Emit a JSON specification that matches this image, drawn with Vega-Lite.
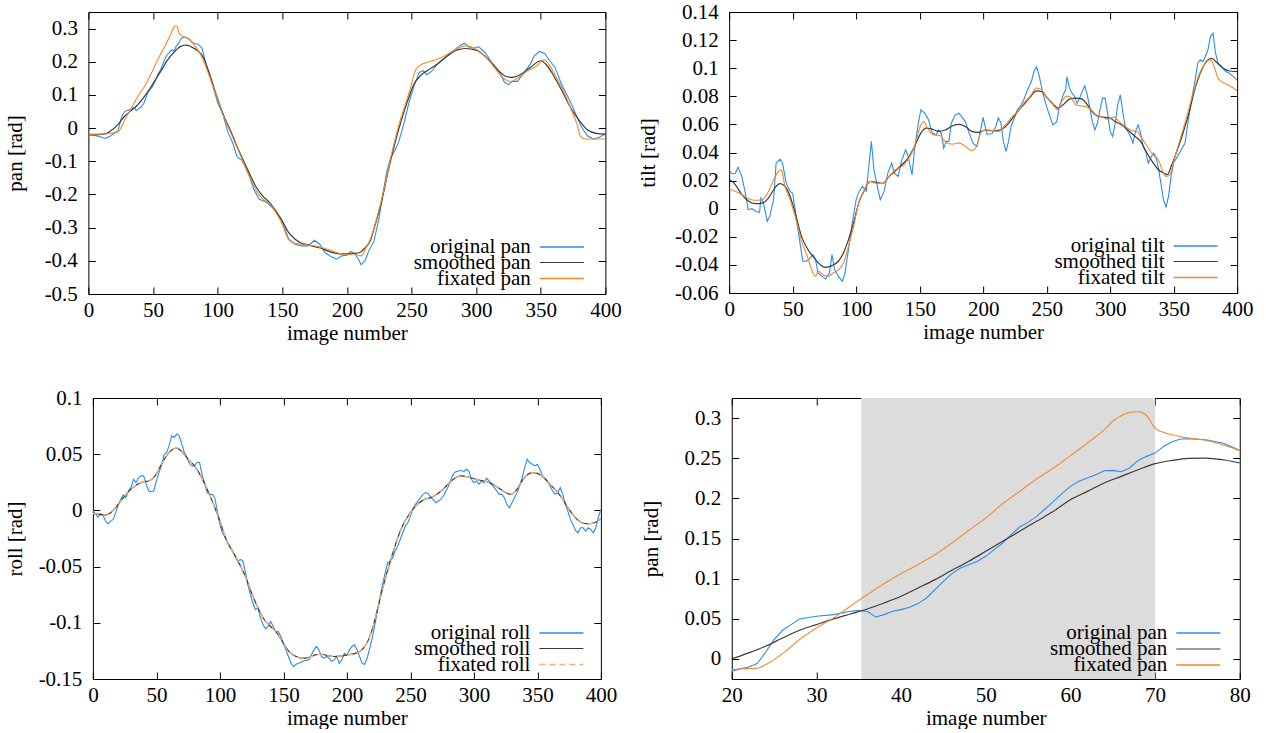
{
"$schema": "https://vega.github.io/schema/vega-lite/v6.json",
"background": "white",
"padding": {"left": 3, "top": 0, "right": 0, "bottom": 0},
"config": {
 "locale": {"number": {"decimal": ".", "thousands": ",", "grouping": [3], "currency": ["$", ""], "minus": "-"}},
 "view": {"stroke": "black", "strokeWidth": 1},
 "axis": {"domain": false, "grid": false, "tickSize": -7, "tickColor": "black", "tickWidth": 1, "labelFont": "Liberation Serif", "labelFontSize": 21, "labelColor": "black", "titleFont": "Liberation Serif", "titleFontSize": 21, "titleFontWeight": "normal", "titleColor": "black", "labelOverlap": false, "labelFlush": false, "zindex": 1},
 "axisBottom": {"labelPadding": 12, "titlePadding": 2},
 "axisLeft": {"labelPadding": 18, "titlePadding": 0},
 "axisTop": {"labels": false},
 "axisRight": {"labels": false},
 "legend": {"orient": "none", "title": null, "symbolType": "stroke", "symbolSize": 1936, "symbolStrokeWidth": 1.5, "symbolOpacity": 1, "labelFontSize": 21, "labelFont": "Liberation Serif", "labelColor": "black", "labelAlign": "right", "labelOffset": -54, "padding": 0, "labelLimit": 0}
},
"datasets": {
 "pan_o": [{"x":0,"y":-0.02},{"x":5,"y":-0.022},{"x":9,"y":-0.026},{"x":13,"y":-0.031},{"x":17,"y":-0.024},{"x":20,"y":-0.0154},{"x":21,"y":-0.0124},{"x":22,"y":-0.01},{"x":23,"y":-0.0058},{"x":24,"y":0.0083},{"x":25,"y":0.0241},{"x":26,"y":0.0357},{"x":27,"y":0.0427},{"x":28,"y":0.0498},{"x":30,"y":0.0531},{"x":32,"y":0.0552},{"x":34,"y":0.0593},{"x":35,"y":0.0602},{"x":36,"y":0.0593},{"x":37,"y":0.0523},{"x":38,"y":0.0552},{"x":39,"y":0.0593},{"x":40,"y":0.0614},{"x":41,"y":0.0643},{"x":42,"y":0.0689},{"x":43,"y":0.0759},{"x":44,"y":0.0863},{"x":45,"y":0.0967},{"x":46,"y":0.1062},{"x":47,"y":0.1133},{"x":48,"y":0.1174},{"x":49,"y":0.1216},{"x":50,"y":0.1278},{"x":51,"y":0.1361},{"x":52,"y":0.1444},{"x":53,"y":0.1548},{"x":54,"y":0.1643},{"x":55,"y":0.1701},{"x":56,"y":0.1776},{"x":57,"y":0.1867},{"x":58,"y":0.1963},{"x":59,"y":0.2058},{"x":60,"y":0.2149},{"x":61,"y":0.2212},{"x":62,"y":0.2253},{"x":63,"y":0.2295},{"x":64,"y":0.2344},{"x":65,"y":0.2349},{"x":66,"y":0.2332},{"x":67,"y":0.2378},{"x":68,"y":0.2473},{"x":69,"y":0.2523},{"x":70,"y":0.2564},{"x":71,"y":0.2647},{"x":72,"y":0.2705},{"x":73,"y":0.2739},{"x":74,"y":0.2743},{"x":76,"y":0.273},{"x":78,"y":0.2689},{"x":80,"y":0.2598},{"x":82,"y":0.255},{"x":85,"y":0.253},{"x":88,"y":0.24},{"x":91,"y":0.193},{"x":95,"y":0.143},{"x":100,"y":0.077},{"x":104,"y":0.042},{"x":108,"y":-0.013},{"x":112,"y":-0.048},{"x":115,"y":-0.086},{"x":119,"y":-0.098},{"x":124,"y":-0.139},{"x":128,"y":-0.184},{"x":132,"y":-0.214},{"x":138,"y":-0.224},{"x":145,"y":-0.249},{"x":150,"y":-0.28},{"x":155,"y":-0.335},{"x":160,"y":-0.35},{"x":165,"y":-0.355},{"x":170,"y":-0.355},{"x":175,"y":-0.338},{"x":179,"y":-0.35},{"x":183,"y":-0.375},{"x":188,"y":-0.388},{"x":192,"y":-0.395},{"x":196,"y":-0.385},{"x":200,"y":-0.383},{"x":203,"y":-0.372},{"x":206,"y":-0.378},{"x":209,"y":-0.395},{"x":211,"y":-0.412},{"x":214,"y":-0.4},{"x":217,"y":-0.37},{"x":221,"y":-0.34},{"x":225,"y":-0.269},{"x":228,"y":-0.194},{"x":231,"y":-0.129},{"x":234,"y":-0.088},{"x":237,"y":-0.068},{"x":240,"y":-0.043},{"x":244,"y":0.012},{"x":248,"y":0.077},{"x":252,"y":0.128},{"x":256,"y":0.168},{"x":259,"y":0.173},{"x":262,"y":0.161},{"x":266,"y":0.173},{"x":270,"y":0.193},{"x":276,"y":0.213},{"x":282,"y":0.233},{"x":288,"y":0.25},{"x":291,"y":0.256},{"x":294,"y":0.245},{"x":298,"y":0.241},{"x":302,"y":0.245},{"x":307,"y":0.228},{"x":312,"y":0.198},{"x":318,"y":0.168},{"x":322,"y":0.138},{"x":325,"y":0.131},{"x":328,"y":0.141},{"x":332,"y":0.141},{"x":337,"y":0.168},{"x":342,"y":0.193},{"x":345,"y":0.218},{"x":349,"y":0.231},{"x":353,"y":0.225},{"x":357,"y":0.203},{"x":361,"y":0.183},{"x":366,"y":0.133},{"x":372,"y":0.087},{"x":376,"y":0.052},{"x":381,"y":0.007},{"x":386,"y":-0.023},{"x":391,"y":-0.033},{"x":395,"y":-0.028},{"x":400,"y":-0.018}],
 "pan_s": [{"x":0,"y":-0.02},{"x":5,"y":-0.02},{"x":10,"y":-0.019},{"x":14,"y":-0.016},{"x":17,"y":-0.009},{"x":20,"y":0.0},{"x":22,"y":0.0075},{"x":24,"y":0.0158},{"x":26,"y":0.026},{"x":28,"y":0.0357},{"x":30,"y":0.0427},{"x":32,"y":0.0498},{"x":34,"y":0.056},{"x":36,"y":0.0622},{"x":38,"y":0.0697},{"x":40,"y":0.078},{"x":42,"y":0.0884},{"x":44,"y":0.0988},{"x":46,"y":0.1104},{"x":48,"y":0.1216},{"x":50,"y":0.134},{"x":52,"y":0.1465},{"x":54,"y":0.1589},{"x":56,"y":0.1714},{"x":58,"y":0.1838},{"x":60,"y":0.1983},{"x":62,"y":0.2087},{"x":64,"y":0.2191},{"x":66,"y":0.2274},{"x":68,"y":0.2357},{"x":70,"y":0.2432},{"x":72,"y":0.2473},{"x":74,"y":0.2498},{"x":76,"y":0.2502},{"x":78,"y":0.2481},{"x":80,"y":0.244},{"x":84,"y":0.235},{"x":89,"y":0.213},{"x":94,"y":0.16},{"x":99,"y":0.1},{"x":105,"y":0.035},{"x":110,"y":-0.008},{"x":115,"y":-0.055},{"x":120,"y":-0.098},{"x":125,"y":-0.14},{"x":130,"y":-0.179},{"x":135,"y":-0.205},{"x":140,"y":-0.224},{"x":145,"y":-0.25},{"x":150,"y":-0.28},{"x":155,"y":-0.315},{"x":160,"y":-0.335},{"x":165,"y":-0.347},{"x":170,"y":-0.352},{"x":175,"y":-0.357},{"x":180,"y":-0.362},{"x":185,"y":-0.37},{"x":190,"y":-0.376},{"x":195,"y":-0.379},{"x":200,"y":-0.379},{"x":205,"y":-0.378},{"x":210,"y":-0.375},{"x":213,"y":-0.365},{"x":218,"y":-0.34},{"x":222,"y":-0.29},{"x":227,"y":-0.219},{"x":232,"y":-0.129},{"x":237,"y":-0.048},{"x":242,"y":0.022},{"x":247,"y":0.082},{"x":252,"y":0.133},{"x":257,"y":0.158},{"x":262,"y":0.173},{"x":270,"y":0.193},{"x":278,"y":0.218},{"x":285,"y":0.235},{"x":292,"y":0.24},{"x":300,"y":0.235},{"x":308,"y":0.213},{"x":315,"y":0.183},{"x":322,"y":0.158},{"x":328,"y":0.153},{"x":335,"y":0.163},{"x":342,"y":0.183},{"x":350,"y":0.203},{"x":355,"y":0.188},{"x":360,"y":0.158},{"x":367,"y":0.108},{"x":373,"y":0.062},{"x":380,"y":0.022},{"x":386,"y":-0.005},{"x":393,"y":-0.016},{"x":400,"y":-0.018}],
 "pan_f": [{"x":0,"y":-0.018},{"x":10,"y":-0.018},{"x":16,"y":-0.016},{"x":20,"y":-0.0133},{"x":21,"y":-0.0124},{"x":23,"y":-0.0116},{"x":24,"y":-0.007},{"x":26,"y":0.0066},{"x":28,"y":0.0241},{"x":30,"y":0.0386},{"x":32,"y":0.051},{"x":34,"y":0.0656},{"x":35,"y":0.073},{"x":36,"y":0.08},{"x":38,"y":0.0938},{"x":40,"y":0.1062},{"x":42,"y":0.1174},{"x":44,"y":0.1299},{"x":46,"y":0.1444},{"x":48,"y":0.1602},{"x":50,"y":0.1755},{"x":52,"y":0.1934},{"x":54,"y":0.2087},{"x":56,"y":0.2241},{"x":58,"y":0.2378},{"x":60,"y":0.2531},{"x":62,"y":0.2689},{"x":64,"y":0.2855},{"x":65,"y":0.2959},{"x":66,"y":0.3029},{"x":67,"y":0.307},{"x":68,"y":0.3079},{"x":69,"y":0.3029},{"x":70,"y":0.2876},{"x":71,"y":0.2822},{"x":72,"y":0.2793},{"x":74,"y":0.2751},{"x":76,"y":0.2722},{"x":78,"y":0.2668},{"x":80,"y":0.2593},{"x":84,"y":0.24},{"x":88,"y":0.213},{"x":93,"y":0.163},{"x":100,"y":0.087},{"x":105,"y":0.032},{"x":110,"y":-0.013},{"x":115,"y":-0.058},{"x":120,"y":-0.104},{"x":125,"y":-0.149},{"x":130,"y":-0.189},{"x":135,"y":-0.214},{"x":140,"y":-0.229},{"x":145,"y":-0.254},{"x":150,"y":-0.29},{"x":154,"y":-0.33},{"x":158,"y":-0.345},{"x":165,"y":-0.35},{"x":175,"y":-0.355},{"x":185,"y":-0.365},{"x":195,"y":-0.378},{"x":200,"y":-0.381},{"x":206,"y":-0.38},{"x":211,"y":-0.385},{"x":215,"y":-0.36},{"x":219,"y":-0.325},{"x":224,"y":-0.259},{"x":229,"y":-0.179},{"x":234,"y":-0.088},{"x":239,"y":-0.008},{"x":244,"y":0.057},{"x":249,"y":0.118},{"x":253,"y":0.173},{"x":257,"y":0.19},{"x":262,"y":0.198},{"x":270,"y":0.208},{"x":278,"y":0.223},{"x":285,"y":0.238},{"x":292,"y":0.248},{"x":300,"y":0.238},{"x":308,"y":0.213},{"x":315,"y":0.178},{"x":322,"y":0.148},{"x":327,"y":0.141},{"x":333,"y":0.153},{"x":340,"y":0.173},{"x":347,"y":0.188},{"x":352,"y":0.206},{"x":357,"y":0.188},{"x":362,"y":0.153},{"x":368,"y":0.108},{"x":374,"y":0.052},{"x":378,"y":0.012},{"x":381,"y":-0.026},{"x":385,"y":-0.033},{"x":400,"y":-0.033}],
 "tilt_o": [{"x":0,"y":0.0277},{"x":2,"y":0.0249},{"x":5,"y":0.025},{"x":7,"y":0.0296},{"x":10,"y":0.023},{"x":13,"y":0.01},{"x":15,"y":-0.0007},{"x":18,"y":0},{"x":21,"y":-0.002},{"x":24,"y":-0.0026},{"x":25,"y":0.0076},{"x":27,"y":0.004},{"x":30,"y":-0.009},{"x":32,"y":-0.0055},{"x":35,"y":0.0064},{"x":37,"y":0.0325},{"x":40,"y":0.0353},{"x":42,"y":0.0325},{"x":45,"y":0.018},{"x":48,"y":0.0123},{"x":50,"y":0.011},{"x":52,"y":-0.0007},{"x":55,"y":-0.0197},{"x":58,"y":-0.0374},{"x":61,"y":-0.0374},{"x":64,"y":-0.035},{"x":66,"y":-0.0327},{"x":68,"y":-0.036},{"x":70,"y":-0.0457},{"x":73,"y":-0.048},{"x":76,"y":-0.05},{"x":79,"y":-0.0457},{"x":81,"y":-0.0327},{"x":83,"y":-0.0434},{"x":86,"y":-0.048},{"x":89,"y":-0.0517},{"x":91,"y":-0.047},{"x":94,"y":-0.029},{"x":97,"y":-0.01},{"x":100,"y":0.0064},{"x":102,"y":0.0116},{"x":105,"y":0.0159},{"x":108,"y":0.0123},{"x":110,"y":0.03},{"x":112,"y":0.048},{"x":114,"y":0.0277},{"x":117,"y":0.0147},{"x":119,"y":0.0064},{"x":122,"y":0.0123},{"x":125,"y":0.0254},{"x":128,"y":0.0325},{"x":130,"y":0.0254},{"x":133,"y":0.023},{"x":136,"y":0.0348},{"x":139,"y":0.042},{"x":141,"y":0.0372},{"x":144,"y":0.024},{"x":146,"y":0.042},{"x":149,"y":0.061},{"x":151,"y":0.0704},{"x":154,"y":0.068},{"x":157,"y":0.0633},{"x":160,"y":0.0538},{"x":163,"y":0.0526},{"x":165,"y":0.056},{"x":167,"y":0.0538},{"x":169,"y":0.0431},{"x":171,"y":0.0479},{"x":173,"y":0.0479},{"x":175,"y":0.061},{"x":178,"y":0.0668},{"x":181,"y":0.068},{"x":184,"y":0.0645},{"x":186,"y":0.062},{"x":189,"y":0.0538},{"x":192,"y":0.0467},{"x":195,"y":0.0443},{"x":198,"y":0.056},{"x":200,"y":0.065},{"x":203,"y":0.053},{"x":207,"y":0.0533},{"x":210,"y":0.0585},{"x":212,"y":0.0645},{"x":214,"y":0.061},{"x":216,"y":0.0479},{"x":218,"y":0.0408},{"x":220,"y":0.0479},{"x":222,"y":0.0585},{"x":225,"y":0.0656},{"x":227,"y":0.0704},{"x":230,"y":0.074},{"x":232,"y":0.0775},{"x":235,"y":0.0846},{"x":238,"y":0.0905},{"x":240,"y":0.0976},{"x":242,"y":0.101},{"x":244,"y":0.0953},{"x":247,"y":0.0822},{"x":250,"y":0.0727},{"x":253,"y":0.0645},{"x":255,"y":0.0597},{"x":258,"y":0.062},{"x":260,"y":0.0727},{"x":263,"y":0.081},{"x":265,"y":0.0846},{"x":266,"y":0.094},{"x":268,"y":0.0858},{"x":270,"y":0.0822},{"x":272,"y":0.08},{"x":274,"y":0.075},{"x":276,"y":0.0787},{"x":278,"y":0.0834},{"x":280,"y":0.0874},{"x":282,"y":0.081},{"x":284,"y":0.0716},{"x":286,"y":0.062},{"x":288,"y":0.056},{"x":290,"y":0.061},{"x":292,"y":0.0704},{"x":294,"y":0.0787},{"x":296,"y":0.0787},{"x":298,"y":0.068},{"x":300,"y":0.055},{"x":302,"y":0.0514},{"x":304,"y":0.061},{"x":306,"y":0.074},{"x":308,"y":0.081},{"x":310,"y":0.069},{"x":312,"y":0.0573},{"x":314,"y":0.055},{"x":316,"y":0.0514},{"x":318,"y":0.0467},{"x":320,"y":0.055},{"x":322,"y":0.0597},{"x":324,"y":0.0538},{"x":326,"y":0.0443},{"x":328,"y":0.0408},{"x":330,"y":0.0325},{"x":332,"y":0.036},{"x":334,"y":0.0396},{"x":336,"y":0.0372},{"x":338,"y":0.0289},{"x":340,"y":0.018},{"x":342,"y":0.0064},{"x":344,"y":0.0012},{"x":346,"y":0.0088},{"x":348,"y":0.023},{"x":350,"y":0.0325},{"x":353,"y":0.0372},{"x":356,"y":0.042},{"x":359,"y":0.0467},{"x":362,"y":0.0656},{"x":365,"y":0.0822},{"x":367,"y":0.0917},{"x":369,"y":0.1036},{"x":371,"y":0.106},{"x":373,"y":0.1047},{"x":375,"y":0.1083},{"x":377,"y":0.113},{"x":379,"y":0.1225},{"x":381,"y":0.1249},{"x":383,"y":0.1107},{"x":385,"y":0.1036},{"x":388,"y":0.101},{"x":391,"y":0.0976},{"x":394,"y":0.0964},{"x":397,"y":0.094},{"x":400,"y":0.0917}],
 "tilt_s": [{"x":0,"y":0.021},{"x":5,"y":0.017},{"x":10,"y":0.01},{"x":16,"y":0.005},{"x":21,"y":0.0036},{"x":26,"y":0.004},{"x":31,"y":0.0076},{"x":36,"y":0.0147},{"x":40,"y":0.0178},{"x":44,"y":0.016},{"x":48,"y":0.0088},{"x":52,"y":-0.003},{"x":57,"y":-0.0197},{"x":62,"y":-0.029},{"x":67,"y":-0.035},{"x":72,"y":-0.04},{"x":76,"y":-0.0417},{"x":81,"y":-0.0405},{"x":86,"y":-0.0374},{"x":90,"y":-0.0315},{"x":94,"y":-0.022},{"x":98,"y":-0.01},{"x":102,"y":0.004},{"x":106,"y":0.0123},{"x":111,"y":0.0194},{"x":116,"y":0.0187},{"x":121,"y":0.018},{"x":126,"y":0.023},{"x":131,"y":0.027},{"x":136,"y":0.0313},{"x":141,"y":0.036},{"x":146,"y":0.0443},{"x":151,"y":0.0538},{"x":155,"y":0.0573},{"x":160,"y":0.0566},{"x":165,"y":0.055},{"x":170,"y":0.056},{"x":176,"y":0.059},{"x":181,"y":0.06},{"x":186,"y":0.0585},{"x":191,"y":0.055},{"x":196,"y":0.0543},{"x":202,"y":0.056},{"x":207,"y":0.0555},{"x":212,"y":0.0557},{"x":217,"y":0.058},{"x":222,"y":0.063},{"x":227,"y":0.069},{"x":232,"y":0.074},{"x":237,"y":0.0794},{"x":242,"y":0.0839},{"x":246,"y":0.0834},{"x":250,"y":0.0794},{"x":255,"y":0.0746},{"x":259,"y":0.0716},{"x":263,"y":0.074},{"x":268,"y":0.078},{"x":273,"y":0.0787},{"x":278,"y":0.078},{"x":282,"y":0.074},{"x":286,"y":0.069},{"x":291,"y":0.0656},{"x":296,"y":0.065},{"x":300,"y":0.0645},{"x":304,"y":0.062},{"x":309,"y":0.0597},{"x":314,"y":0.056},{"x":319,"y":0.0519},{"x":324,"y":0.0479},{"x":329,"y":0.0396},{"x":334,"y":0.0325},{"x":338,"y":0.0277},{"x":342,"y":0.0254},{"x":345,"y":0.0242},{"x":348,"y":0.03},{"x":352,"y":0.0396},{"x":357,"y":0.0526},{"x":362,"y":0.068},{"x":367,"y":0.0858},{"x":372,"y":0.0988},{"x":377,"y":0.1059},{"x":380,"y":0.107},{"x":384,"y":0.104},{"x":389,"y":0.1},{"x":394,"y":0.098},{"x":400,"y":0.0976}],
 "tilt_f": [{"x":0,"y":0.014},{"x":5,"y":0.0123},{"x":10,"y":0.01},{"x":16,"y":0.0069},{"x":21,"y":0.006},{"x":26,"y":0.0064},{"x":31,"y":0.0123},{"x":35,"y":0.0206},{"x":39,"y":0.0265},{"x":41,"y":0.0277},{"x":44,"y":0.016},{"x":48,"y":0.0064},{"x":52,"y":-0.0055},{"x":57,"y":-0.023},{"x":62,"y":-0.035},{"x":66,"y":-0.0457},{"x":68,"y":-0.048},{"x":70,"y":-0.0445},{"x":74,"y":-0.047},{"x":78,"y":-0.048},{"x":82,"y":-0.0457},{"x":86,"y":-0.0434},{"x":90,"y":-0.0386},{"x":94,"y":-0.0268},{"x":98,"y":-0.0126},{"x":102,"y":0.004},{"x":106,"y":0.0123},{"x":111,"y":0.0194},{"x":116,"y":0.018},{"x":121,"y":0.018},{"x":126,"y":0.023},{"x":131,"y":0.0277},{"x":136,"y":0.03},{"x":141,"y":0.0353},{"x":146,"y":0.0443},{"x":151,"y":0.0597},{"x":153,"y":0.062},{"x":157,"y":0.0562},{"x":161,"y":0.0526},{"x":166,"y":0.052},{"x":171,"y":0.047},{"x":176,"y":0.046},{"x":181,"y":0.0467},{"x":186,"y":0.0443},{"x":191,"y":0.0415},{"x":195,"y":0.0443},{"x":198,"y":0.0538},{"x":202,"y":0.056},{"x":207,"y":0.0557},{"x":212,"y":0.055},{"x":217,"y":0.059},{"x":222,"y":0.0645},{"x":227,"y":0.069},{"x":232,"y":0.075},{"x":237,"y":0.08},{"x":242,"y":0.0858},{"x":246,"y":0.0846},{"x":250,"y":0.0794},{"x":255,"y":0.074},{"x":259,"y":0.0704},{"x":262,"y":0.0763},{"x":266,"y":0.08},{"x":269,"y":0.0794},{"x":273,"y":0.074},{"x":277,"y":0.0732},{"x":281,"y":0.0727},{"x":285,"y":0.0704},{"x":289,"y":0.0668},{"x":293,"y":0.0656},{"x":298,"y":0.0637},{"x":303,"y":0.0652},{"x":307,"y":0.062},{"x":312,"y":0.0585},{"x":317,"y":0.0557},{"x":321,"y":0.055},{"x":325,"y":0.0502},{"x":330,"y":0.0431},{"x":335,"y":0.0372},{"x":338,"y":0.0348},{"x":341,"y":0.0277},{"x":344,"y":0.023},{"x":347,"y":0.0242},{"x":350,"y":0.0336},{"x":355,"y":0.049},{"x":360,"y":0.0645},{"x":365,"y":0.081},{"x":370,"y":0.0953},{"x":375,"y":0.1036},{"x":379,"y":0.106},{"x":382,"y":0.101},{"x":385,"y":0.0929},{"x":390,"y":0.0893},{"x":395,"y":0.087},{"x":400,"y":0.0841}],
 "roll_o": [{"x":0,"y":0},{"x":2,"y":-0.003},{"x":4,"y":-0.006},{"x":6,"y":-0.003},{"x":8,"y":-0.0042},{"x":10,"y":-0.0095},{"x":12,"y":-0.0119},{"x":14,"y":-0.0095},{"x":16,"y":-0.008},{"x":18,"y":-0.002},{"x":20,"y":0.0054},{"x":22,"y":0.0098},{"x":24,"y":0.0137},{"x":26,"y":0.0113},{"x":28,"y":0.0173},{"x":30,"y":0.0202},{"x":32,"y":0.0277},{"x":34,"y":0.0247},{"x":36,"y":0.0292},{"x":38,"y":0.0307},{"x":40,"y":0.0307},{"x":42,"y":0.0232},{"x":44,"y":0.0173},{"x":46,"y":0.0167},{"x":48,"y":0.0173},{"x":50,"y":0.0262},{"x":52,"y":0.0336},{"x":54,"y":0.0396},{"x":56,"y":0.0494},{"x":58,"y":0.0515},{"x":60,"y":0.0574},{"x":62,"y":0.0664},{"x":64,"y":0.0649},{"x":66,"y":0.0679},{"x":68,"y":0.0664},{"x":70,"y":0.0589},{"x":72,"y":0.0515},{"x":74,"y":0.047},{"x":76,"y":0.0417},{"x":78,"y":0.0396},{"x":80,"y":0.0396},{"x":82,"y":0.0426},{"x":84,"y":0.0426},{"x":86,"y":0.0321},{"x":88,"y":0.0238},{"x":90,"y":0.0158},{"x":92,"y":0.0143},{"x":94,"y":0.0143},{"x":96,"y":0.0113},{"x":98,"y":-0.0006},{"x":100,"y":-0.0125},{"x":102,"y":-0.0199},{"x":104,"y":-0.0238},{"x":106,"y":-0.0289},{"x":108,"y":-0.0327},{"x":110,"y":-0.0363},{"x":112,"y":-0.0408},{"x":114,"y":-0.0452},{"x":116,"y":-0.0438},{"x":118,"y":-0.0446},{"x":120,"y":-0.0542},{"x":122,"y":-0.066},{"x":124,"y":-0.075},{"x":126,"y":-0.0824},{"x":128,"y":-0.0884},{"x":130,"y":-0.0869},{"x":132,"y":-0.0958},{"x":134,"y":-0.1018},{"x":136,"y":-0.1054},{"x":138,"y":-0.1033},{"x":140,"y":-0.0988},{"x":142,"y":-0.1033},{"x":144,"y":-0.1077},{"x":146,"y":-0.1077},{"x":148,"y":-0.1122},{"x":150,"y":-0.1182},{"x":152,"y":-0.1241},{"x":154,"y":-0.13},{"x":156,"y":-0.136},{"x":158,"y":-0.139},{"x":160,"y":-0.1369},{"x":162,"y":-0.136},{"x":164,"y":-0.1351},{"x":166,"y":-0.1339},{"x":168,"y":-0.1333},{"x":170,"y":-0.133},{"x":172,"y":-0.1286},{"x":174,"y":-0.1241},{"x":176,"y":-0.1211},{"x":178,"y":-0.1241},{"x":180,"y":-0.13},{"x":182,"y":-0.1315},{"x":184,"y":-0.13},{"x":186,"y":-0.1315},{"x":188,"y":-0.1345},{"x":190,"y":-0.133},{"x":192,"y":-0.13},{"x":194,"y":-0.136},{"x":196,"y":-0.133},{"x":198,"y":-0.1271},{"x":200,"y":-0.1286},{"x":202,"y":-0.1241},{"x":204,"y":-0.1211},{"x":206,"y":-0.1196},{"x":208,"y":-0.1241},{"x":210,"y":-0.13},{"x":212,"y":-0.136},{"x":214,"y":-0.1369},{"x":216,"y":-0.1315},{"x":218,"y":-0.1226},{"x":220,"y":-0.1137},{"x":222,"y":-0.1018},{"x":224,"y":-0.0899},{"x":226,"y":-0.078},{"x":228,"y":-0.066},{"x":230,"y":-0.0565},{"x":232,"y":-0.0467},{"x":234,"y":-0.0452},{"x":236,"y":-0.0423},{"x":238,"y":-0.0363},{"x":240,"y":-0.0318},{"x":242,"y":-0.0259},{"x":244,"y":-0.0199},{"x":246,"y":-0.014},{"x":248,"y":-0.011},{"x":250,"y":-0.0051},{"x":252,"y":0.0009},{"x":254,"y":0.0054},{"x":256,"y":0.0083},{"x":258,"y":0.0113},{"x":260,"y":0.0143},{"x":262,"y":0.0158},{"x":264,"y":0.0149},{"x":266,"y":0.0119},{"x":268,"y":0.0098},{"x":270,"y":0.0068},{"x":272,"y":0.0083},{"x":274,"y":0.0098},{"x":276,"y":0.0128},{"x":278,"y":0.0173},{"x":280,"y":0.0217},{"x":282,"y":0.0277},{"x":284,"y":0.0327},{"x":286,"y":0.0345},{"x":288,"y":0.0351},{"x":290,"y":0.0357},{"x":292,"y":0.0345},{"x":294,"y":0.0366},{"x":296,"y":0.0351},{"x":298,"y":0.0277},{"x":300,"y":0.0247},{"x":302,"y":0.0262},{"x":304,"y":0.0232},{"x":306,"y":0.0262},{"x":308,"y":0.0247},{"x":310,"y":0.0286},{"x":312,"y":0.0262},{"x":314,"y":0.0232},{"x":316,"y":0.0202},{"x":318,"y":0.0173},{"x":320,"y":0.0143},{"x":322,"y":0.0143},{"x":324,"y":0.0113},{"x":326,"y":0.0054},{"x":328,"y":0.0024},{"x":330,"y":0.0068},{"x":332,"y":0.0113},{"x":334,"y":0.0158},{"x":336,"y":0.0217},{"x":338,"y":0.0292},{"x":340,"y":0.0381},{"x":342,"y":0.0455},{"x":344,"y":0.0426},{"x":346,"y":0.0411},{"x":348,"y":0.0396},{"x":350,"y":0.0411},{"x":352,"y":0.0366},{"x":354,"y":0.0307},{"x":356,"y":0.0286},{"x":358,"y":0.0262},{"x":360,"y":0.0217},{"x":362,"y":0.0173},{"x":364,"y":0.0143},{"x":366,"y":0.0158},{"x":368,"y":0.0202},{"x":370,"y":0.0143},{"x":372,"y":0.0054},{"x":374,"y":-0.0006},{"x":376,"y":-0.008},{"x":378,"y":-0.0125},{"x":380,"y":-0.0179},{"x":382,"y":-0.0199},{"x":384,"y":-0.0155},{"x":386,"y":-0.0155},{"x":388,"y":-0.0185},{"x":390,"y":-0.0155},{"x":392,"y":-0.017},{"x":394,"y":-0.0199},{"x":396,"y":-0.0155},{"x":398,"y":-0.0065},{"x":400,"y":0.0009}],
 "roll_s": [{"x":0,"y":-0.0027},{"x":5,"y":-0.0036},{"x":10,"y":-0.0042},{"x":14,"y":-0.002},{"x":19,"y":0.0039},{"x":24,"y":0.0113},{"x":29,"y":0.0179},{"x":34,"y":0.0223},{"x":39,"y":0.0253},{"x":44,"y":0.0262},{"x":49,"y":0.0307},{"x":54,"y":0.0411},{"x":59,"y":0.05},{"x":64,"y":0.0551},{"x":66,"y":0.0554},{"x":70,"y":0.0524},{"x":75,"y":0.0455},{"x":80,"y":0.0396},{"x":85,"y":0.0307},{"x":90,"y":0.0188},{"x":95,"y":0.0054},{"x":100,"y":-0.0095},{"x":105,"y":-0.0259},{"x":110,"y":-0.0363},{"x":115,"y":-0.0467},{"x":120,"y":-0.0586},{"x":125,"y":-0.0735},{"x":130,"y":-0.0869},{"x":135,"y":-0.0973},{"x":140,"y":-0.1033},{"x":145,"y":-0.1092},{"x":150,"y":-0.1182},{"x":155,"y":-0.1262},{"x":160,"y":-0.13},{"x":165,"y":-0.1315},{"x":170,"y":-0.1307},{"x":175,"y":-0.1286},{"x":180,"y":-0.128},{"x":185,"y":-0.1292},{"x":190,"y":-0.13},{"x":195,"y":-0.1295},{"x":200,"y":-0.1286},{"x":205,"y":-0.1277},{"x":210,"y":-0.1256},{"x":213,"y":-0.1226},{"x":217,"y":-0.1152},{"x":221,"y":-0.1018},{"x":225,"y":-0.0839},{"x":229,"y":-0.066},{"x":233,"y":-0.0497},{"x":237,"y":-0.0348},{"x":241,"y":-0.0214},{"x":245,"y":-0.011},{"x":249,"y":-0.0036},{"x":253,"y":0.0024},{"x":257,"y":0.0068},{"x":261,"y":0.0098},{"x":266,"y":0.0113},{"x":270,"y":0.0137},{"x":275,"y":0.0179},{"x":280,"y":0.0238},{"x":285,"y":0.0286},{"x":290,"y":0.0307},{"x":295,"y":0.0298},{"x":300,"y":0.0283},{"x":305,"y":0.0268},{"x":310,"y":0.0256},{"x":315,"y":0.0232},{"x":320,"y":0.0196},{"x":325,"y":0.0158},{"x":329,"y":0.0143},{"x":333,"y":0.0173},{"x":337,"y":0.0247},{"x":341,"y":0.0307},{"x":346,"y":0.0336},{"x":350,"y":0.033},{"x":355,"y":0.0292},{"x":360,"y":0.0232},{"x":365,"y":0.0173},{"x":370,"y":0.0098},{"x":375,"y":0.0009},{"x":380,"y":-0.0065},{"x":385,"y":-0.011},{"x":390,"y":-0.0119},{"x":395,"y":-0.011},{"x":400,"y":-0.0074}],
 "band": [{"a": 35.3, "b": 70}]
},
"spacing": 14.75,
"resolve": {"scale": {"color": "independent", "strokeDash": "independent", "strokeWidth": "independent"}, "legend": {"color": "independent", "strokeDash": "independent", "strokeWidth": "independent"}},
"hconcat": [
 {"center": true, "spacing": 42,
  "resolve": {"scale": {"color": "independent", "strokeDash": "independent", "strokeWidth": "independent"}, "legend": {"color": "independent", "strokeDash": "independent", "strokeWidth": "independent"}},
  "vconcat": [
  {"width": 517, "height": 282,
   "resolve": {"axis": {"x": "independent", "y": "independent"}},
   "layer": [
    {"data": {"name": "pan_o"}, "mark": {"type": "line", "clip": true, "strokeWidth": 1.1},
     "encoding": {
      "x": {"field": "x", "type": "quantitative", "scale": {"domain": [0, 400], "nice": false}, "axis": {"orient": "bottom", "values": [0,50,100,150,200,250,300,350,400], "format": ".6~g", "title": "image number"}},
      "y": {"field": "y", "type": "quantitative", "scale": {"domain": [-0.5, 0.35], "nice": false, "zero": false}, "axis": {"orient": "left", "values": [-0.5,-0.4,-0.3,-0.2,-0.1,0,0.1,0.2,0.3], "format": ".6~g", "title": "pan [rad]", "minExtent": 63.25, "maxExtent": 63.25}},
      "color": {"datum": "original pan", "type": "nominal", "scale": {"domain": ["original pan"], "range": ["#2b8cee"]}, "legend": {"legendX": 450.5, "legendY": 212}}
     }},
    {"data": {"name": "pan_s"}, "mark": {"type": "line", "clip": true, "color": "#3a3a3a", "interpolate": "monotone"},
     "encoding": {"x": {"field": "x", "type": "quantitative", "axis": null}, "y": {"field": "y", "type": "quantitative", "axis": null},
      "strokeWidth": {"datum": "smoothed pan", "type": "ordinal", "scale": {"domain": ["smoothed pan"], "range": [1.2, 1.2]}, "legend": {"legendX": 450.5, "legendY": 227.5, "encode": {"symbols": {"update": {"stroke": {"value": "#3a3a3a"}}}}}}}},
    {"data": {"name": "pan_f"}, "mark": {"type": "line", "clip": true, "color": "#f0892a", "strokeWidth": 1.1, "interpolate": "monotone"},
     "encoding": {"x": {"field": "x", "type": "quantitative", "axis": null}, "y": {"field": "y", "type": "quantitative", "axis": null},
      "strokeDash": {"datum": "fixated pan", "type": "nominal", "scale": {"domain": ["fixated pan"], "range": [[1, 0]]}, "legend": {"legendX": 450.5, "legendY": 243.5, "encode": {"symbols": {"update": {"stroke": {"value": "#f0892a"}}}}}}}},
    {"data": {"name": "pan_s"}, "mark": {"type": "line", "clip": true, "strokeOpacity": 0},
     "encoding": {"x": {"field": "x", "type": "quantitative", "axis": {"orient": "top", "values": [0,50,100,150,200,250,300,350,400], "title": null}}, "y": {"field": "y", "type": "quantitative", "axis": {"orient": "right", "values": [-0.5,-0.4,-0.3,-0.2,-0.1,0,0.1,0.2,0.3], "title": null}}}}
   ]},
  {"width": 508, "height": 281,
   "resolve": {"axis": {"x": "independent", "y": "independent"}},
   "layer": [
    {"data": {"name": "roll_o"}, "mark": {"type": "line", "clip": true, "strokeWidth": 1.1},
     "encoding": {
      "x": {"field": "x", "type": "quantitative", "scale": {"domain": [0, 400], "nice": false}, "axis": {"orient": "bottom", "values": [0,50,100,150,200,250,300,350,400], "format": ".6~g", "title": "image number"}},
      "y": {"field": "y", "type": "quantitative", "scale": {"domain": [-0.15, 0.1], "nice": false, "zero": false}, "axis": {"orient": "left", "values": [-0.15,-0.1,-0.05,0,0.05,0.1], "format": ".6~g", "title": "roll [rad]", "minExtent": 67.75, "maxExtent": 67.75}},
      "color": {"datum": "original roll", "type": "nominal", "scale": {"domain": ["original roll"], "range": ["#2b8cee"]}, "legend": {"legendX": 445.5, "legendY": 212}}
     }},
    {"data": {"name": "roll_s"}, "mark": {"type": "line", "clip": true, "color": "#3a3a3a", "interpolate": "monotone"},
     "encoding": {"x": {"field": "x", "type": "quantitative", "axis": null}, "y": {"field": "y", "type": "quantitative", "axis": null},
      "strokeWidth": {"datum": "smoothed roll", "type": "ordinal", "scale": {"domain": ["smoothed roll"], "range": [1.2, 1.2]}, "legend": {"legendX": 445.5, "legendY": 227.5, "encode": {"symbols": {"update": {"stroke": {"value": "#3a3a3a"}}}}}}}},
    {"data": {"name": "roll_s"}, "mark": {"type": "line", "clip": true, "color": "#f6b07a", "strokeWidth": 1.3, "interpolate": "monotone"},
     "encoding": {"x": {"field": "x", "type": "quantitative", "axis": null}, "y": {"field": "y", "type": "quantitative", "axis": null},
      "strokeDash": {"datum": "fixated roll", "type": "nominal", "scale": {"domain": ["fixated roll"], "range": [[6, 4]]}, "legend": {"legendX": 445.5, "legendY": 243.5, "encode": {"symbols": {"update": {"stroke": {"value": "#f6b07a"}}}}}}}},
    {"data": {"name": "roll_s"}, "mark": {"type": "line", "clip": true, "strokeOpacity": 0},
     "encoding": {"x": {"field": "x", "type": "quantitative", "axis": {"orient": "top", "values": [0,50,100,150,200,250,300,350,400], "title": null}}, "y": {"field": "y", "type": "quantitative", "axis": {"orient": "right", "values": [-0.15,-0.1,-0.05,0,0.05,0.1], "title": null}}}}
   ]}
 ]},
 {"center": true, "spacing": 54,
  "resolve": {"scale": {"color": "independent", "strokeDash": "independent", "strokeWidth": "independent"}, "legend": {"color": "independent", "strokeDash": "independent", "strokeWidth": "independent"}},
  "vconcat": [
  {"width": 508, "height": 281,
   "resolve": {"axis": {"x": "independent", "y": "independent"}},
   "layer": [
    {"data": {"name": "tilt_o"}, "mark": {"type": "line", "clip": true, "strokeWidth": 1.1},
     "encoding": {
      "x": {"field": "x", "type": "quantitative", "scale": {"domain": [0, 400], "nice": false}, "axis": {"orient": "bottom", "values": [0,50,100,150,200,250,300,350,400], "format": ".6~g", "title": "image number"}},
      "y": {"field": "y", "type": "quantitative", "scale": {"domain": [-0.06, 0.14], "nice": false, "zero": false}, "axis": {"orient": "left", "values": [-0.06,-0.04,-0.02,0,0.02,0.04,0.06,0.08,0.1,0.12,0.14], "format": ".6~g", "title": "tilt [rad]", "minExtent": 70.5, "maxExtent": 70.5}},
      "color": {"datum": "original tilt", "type": "nominal", "scale": {"domain": ["original tilt"], "range": ["#2b8cee"]}, "legend": {"legendX": 443.5, "legendY": 211}}
     }},
    {"data": {"name": "tilt_s"}, "mark": {"type": "line", "clip": true, "color": "#3a3a3a", "interpolate": "monotone"},
     "encoding": {"x": {"field": "x", "type": "quantitative", "axis": null}, "y": {"field": "y", "type": "quantitative", "axis": null},
      "strokeWidth": {"datum": "smoothed tilt", "type": "ordinal", "scale": {"domain": ["smoothed tilt"], "range": [1.2, 1.2]}, "legend": {"legendX": 443.5, "legendY": 226.5, "encode": {"symbols": {"update": {"stroke": {"value": "#3a3a3a"}}}}}}}},
    {"data": {"name": "tilt_f"}, "mark": {"type": "line", "clip": true, "color": "#f0892a", "strokeWidth": 1.1, "interpolate": "monotone"},
     "encoding": {"x": {"field": "x", "type": "quantitative", "axis": null}, "y": {"field": "y", "type": "quantitative", "axis": null},
      "strokeDash": {"datum": "fixated tilt", "type": "nominal", "scale": {"domain": ["fixated tilt"], "range": [[1, 0]]}, "legend": {"legendX": 443.5, "legendY": 242.5, "encode": {"symbols": {"update": {"stroke": {"value": "#f0892a"}}}}}}}},
    {"data": {"name": "tilt_s"}, "mark": {"type": "line", "clip": true, "strokeOpacity": 0},
     "encoding": {"x": {"field": "x", "type": "quantitative", "axis": {"orient": "top", "values": [0,50,100,150,200,250,300,350,400], "title": null}}, "y": {"field": "y", "type": "quantitative", "axis": {"orient": "right", "values": [-0.06,-0.04,-0.02,0,0.02,0.04,0.06,0.08,0.1,0.12,0.14], "title": null}}}}
   ]},
  {"width": 508, "height": 281,
   "resolve": {"axis": {"x": "independent", "y": "independent"}},
   "layer": [
    {"data": {"name": "band"}, "mark": {"type": "rect", "color": "#dcdcdc"},
     "encoding": {"x": {"field": "a", "type": "quantitative", "axis": null}, "x2": {"field": "b"}, "y": {"value": 0}, "y2": {"value": "height"}}},
    {"data": {"name": "pan_o"}, "mark": {"type": "line", "clip": true, "strokeWidth": 1.1},
     "encoding": {
      "x": {"field": "x", "type": "quantitative", "scale": {"domain": [20, 80], "nice": false, "zero": false}, "axis": {"orient": "bottom", "values": [20,30,40,50,60,70,80], "format": ".6~g", "title": "image number"}},
      "y": {"field": "y", "type": "quantitative", "scale": {"domain": [-0.025, 0.325], "nice": false, "zero": false}, "axis": {"orient": "left", "values": [0,0.05,0.1,0.15,0.2,0.25,0.3], "format": ".6~g", "title": "pan [rad]", "minExtent": 70.5, "maxExtent": 70.5}},
      "color": {"datum": "original pan", "type": "nominal", "scale": {"domain": ["original pan"], "range": ["#2b8cee"]}, "legend": {"legendX": 443.5, "legendY": 212}}
     }},
    {"data": {"name": "pan_s"}, "mark": {"type": "line", "clip": true, "color": "#3a3a3a", "interpolate": "monotone"},
     "encoding": {"x": {"field": "x", "type": "quantitative", "axis": null}, "y": {"field": "y", "type": "quantitative", "axis": null},
      "strokeWidth": {"datum": "smoothed pan", "type": "ordinal", "scale": {"domain": ["smoothed pan"], "range": [1.2, 1.2]}, "legend": {"legendX": 443.5, "legendY": 228, "encode": {"symbols": {"update": {"stroke": {"value": "#3a3a3a"}}}}}}}},
    {"data": {"name": "pan_f"}, "mark": {"type": "line", "clip": true, "color": "#f0892a", "strokeWidth": 1.1, "interpolate": "monotone"},
     "encoding": {"x": {"field": "x", "type": "quantitative", "axis": null}, "y": {"field": "y", "type": "quantitative", "axis": null},
      "strokeDash": {"datum": "fixated pan", "type": "nominal", "scale": {"domain": ["fixated pan"], "range": [[1, 0]]}, "legend": {"legendX": 443.5, "legendY": 244, "encode": {"symbols": {"update": {"stroke": {"value": "#f0892a"}}}}}}}},
    {"data": {"name": "pan_s"}, "mark": {"type": "line", "clip": true, "strokeOpacity": 0},
     "encoding": {"x": {"field": "x", "type": "quantitative", "axis": {"orient": "top", "values": [20,30,40,50,60,70,80], "title": null}}, "y": {"field": "y", "type": "quantitative", "axis": {"orient": "right", "values": [0,0.05,0.1,0.15,0.2,0.25,0.3], "title": null}}}}
   ]}
 ]}
]
}
